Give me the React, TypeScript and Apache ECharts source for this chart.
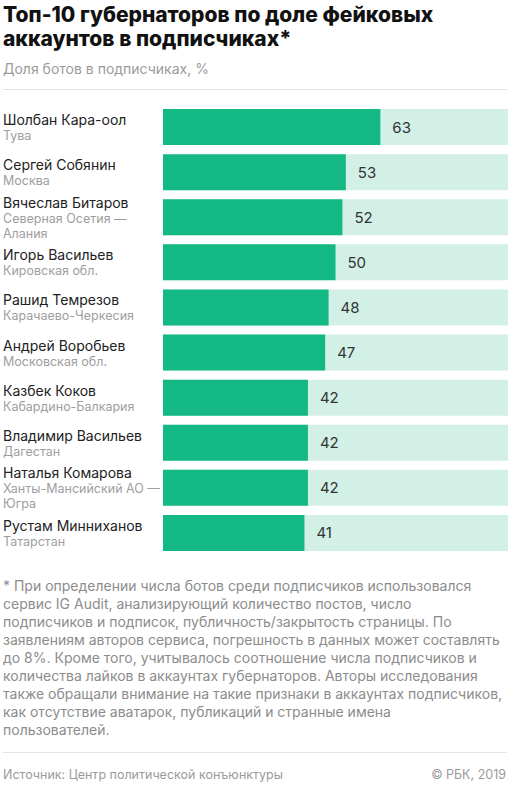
import React, { useEffect, useRef } from "react";
import * as echarts from "echarts";

const names = [
  "Шолбан Кара-оол",
  "Сергей Собянин",
  "Вячеслав Битаров",
  "Игорь Васильев",
  "Рашид Темрезов",
  "Андрей Воробьев",
  "Казбек Коков",
  "Владимир Васильев",
  "Наталья Комарова",
  "Рустам Минниханов",
];

const regions = [
  "Тува",
  "Москва",
  "Северная Осетия —\nАлания",
  "Кировская обл.",
  "Карачаево-Черкесия",
  "Московская обл.",
  "Кабардино-Балкария",
  "Дагестан",
  "Ханты-Мансийский АО —\nЮгра",
  "Татарстан",
];

const botShare = [63, 53, 52, 50, 48, 47, 42, 42, 42, 41];

const titleLines = [
  "Топ-10 губернаторов по доле фейковых",
  "аккаунтов в подписчиках*",
];
const subtitle = "Доля ботов в подписчиках, %";

const footnoteLines = [
  "* При определении числа ботов среди подписчиков использовался",
  "сервис IG Audit, анализирующий количество постов, число",
  "подписчиков и подписок, публичность/закрытость страницы. По",
  "заявлениям авторов сервиса, погрешность в данных может составлять",
  "до 8%. Кроме того, учитывалось соотношение числа подписчиков и",
  "количества лайков в аккаунтах губернаторов. Авторы исследования",
  "также обращали внимание на такие признаки в аккаунтах подписчиков,",
  "как отсутствие аватарок, публикаций и странные имена",
  "пользователей.",
];
const sourceText = "Источник: Центр политической конъюнктуры";
const copyrightText = "© РБК, 2019";

const FONT = "Inter, 'Noto Sans', sans-serif";

export default function App() {
  const ref = useRef<HTMLDivElement>(null);

  useEffect(() => {
    document.body.style.margin = "0";
    if (!ref.current) return;
    const chart = echarts.init(ref.current, null, { renderer: "svg" });

    const graphic: any[] = [];
    titleLines.forEach((t, i) => {
      graphic.push({
        type: "text",
        x: 3,
        y: 14 + i * 24,
        style: {
          text: t,
          fill: "#111111",
          fontSize: 21,
          fontWeight: 800,
          fontFamily: FONT,
          textAlign: "left",
          textVerticalAlign: "middle",
        },
      });
    });
    graphic.push({
      type: "text",
      x: 3,
      y: 68,
      style: {
        text: subtitle,
        fill: "#9b9b9b",
        fontSize: 14,
        fontFamily: FONT,
        textVerticalAlign: "middle",
      },
    });
    graphic.push({
      type: "line",
      shape: { x1: 3, y1: 89.5, x2: 507, y2: 89.5 },
      style: { stroke: "#e4e4e4", lineWidth: 1 },
    });
    footnoteLines.forEach((t, i) => {
      graphic.push({
        type: "text",
        x: 3,
        y: 585 + i * 18,
        style: {
          text: t,
          fill: "#8c8c8c",
          fontSize: 14,
          fontFamily: FONT,
          textVerticalAlign: "middle",
        },
      });
    });
    graphic.push({
      type: "line",
      shape: { x1: 3, y1: 752.5, x2: 507, y2: 752.5 },
      style: { stroke: "#e4e4e4", lineWidth: 1 },
    });
    graphic.push({
      type: "text",
      x: 3,
      y: 774,
      style: {
        text: sourceText,
        fill: "#9b9b9b",
        fontSize: 12.5,
        fontFamily: FONT,
        textVerticalAlign: "middle",
      },
    });
    graphic.push({
      type: "text",
      x: 506,
      y: 774,
      style: {
        text: copyrightText,
        fill: "#9b9b9b",
        fontSize: 12.5,
        fontFamily: FONT,
        textAlign: "right",
        textVerticalAlign: "middle",
      },
    });

    chart.setOption({
      animation: false,
      backgroundColor: "#ffffff",
      grid: { left: 163, right: 1, top: 104.5, height: 451, containLabel: false },
      xAxis: {
        type: "value",
        min: 0,
        max: 100,
        show: false,
      },
      yAxis: {
        type: "category",
        inverse: true,
        data: names,
        axisLine: { show: false },
        axisTick: { show: false },
        splitLine: { show: false },
        axisLabel: {
          align: "left",
          margin: 160,
          formatter: (_v: string, i: number) =>
            `{n|${names[i]}}\n` +
            regions[i]
              .split("\n")
              .map((r) => `{r|${r}}`)
              .join("\n"),
          rich: {
            n: {
              fontSize: 14,
              color: "#222222",
              lineHeight: 17,
              fontFamily: FONT,
            },
            r: {
              fontSize: 12.5,
              color: "#9e9e9e",
              lineHeight: 15,
              fontFamily: FONT,
            },
          },
        },
      },
      series: [
        {
          type: "bar",
          data: botShare,
          barWidth: 36,
          showBackground: true,
          backgroundStyle: { color: "#d2f0e6" },
          itemStyle: { color: "#13b884" },
          label: {
            show: true,
            position: "right",
            distance: 12,
            color: "#333333",
            fontSize: 15,
            fontFamily: FONT,
          },
        },
      ],
      graphic,
    });

    return () => chart.dispose();
  }, []);

  return <div ref={ref} style={{ width: 509, height: 788 }} />;
}
